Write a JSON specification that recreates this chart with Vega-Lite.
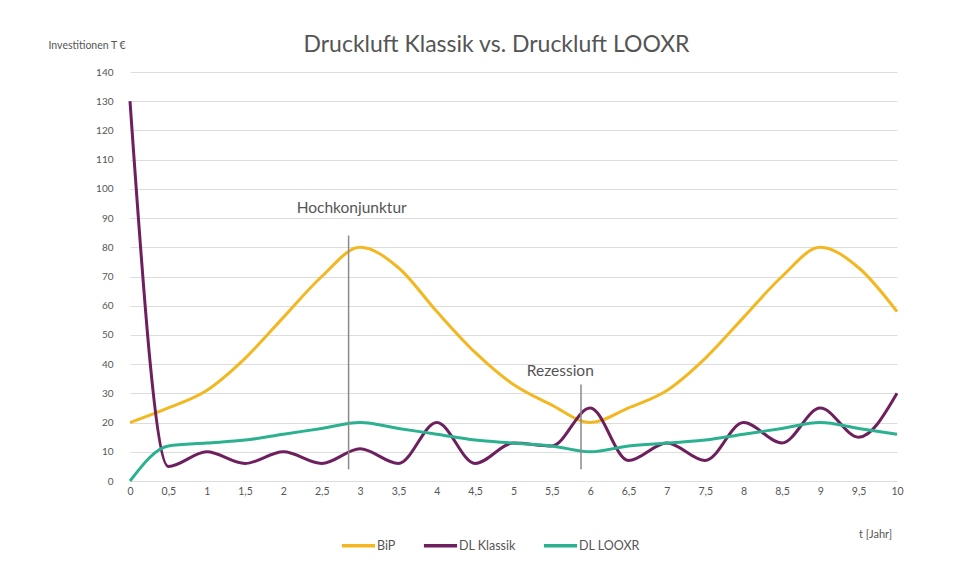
{
  "$schema": "https://vega.github.io/schema/vega-lite/v6.json",
  "autosize": {"type": "none"},
  "width": 767,
  "height": 409,
  "padding": {"left": 130, "top": 72, "right": 57, "bottom": 90},
  "background": "white",
  "config": {
    "view": {"stroke": null},
    "font": "Lato",
    "axis": {"labelFont": "Lato", "titleFont": "Lato", "labelColor": "#555", "titleColor": "#555"},
    "legend": {"labelFont": "Lato"}
  },
  "title": {
    "text": "Druckluft Klassik vs. Druckluft LOOXR",
    "fontSize": 23,
    "font": "Lato",
    "fontWeight": "normal",
    "color": "#555",
    "anchor": "middle",
    "dx": -17,
    "dy": 35,
    "offset": 18
  },
  "datasets": {
    "serien": [
      {"t": 0, "serie": "BiP", "wert": 20},
      {"t": 0.5, "serie": "BiP", "wert": 25},
      {"t": 1, "serie": "BiP", "wert": 31},
      {"t": 1.5, "serie": "BiP", "wert": 42},
      {"t": 2, "serie": "BiP", "wert": 56},
      {"t": 2.5, "serie": "BiP", "wert": 70},
      {"t": 3, "serie": "BiP", "wert": 80},
      {"t": 3.5, "serie": "BiP", "wert": 73},
      {"t": 4, "serie": "BiP", "wert": 58},
      {"t": 4.5, "serie": "BiP", "wert": 44},
      {"t": 5, "serie": "BiP", "wert": 33},
      {"t": 5.5, "serie": "BiP", "wert": 26},
      {"t": 6, "serie": "BiP", "wert": 20},
      {"t": 6.5, "serie": "BiP", "wert": 25},
      {"t": 7, "serie": "BiP", "wert": 31},
      {"t": 7.5, "serie": "BiP", "wert": 42},
      {"t": 8, "serie": "BiP", "wert": 56},
      {"t": 8.5, "serie": "BiP", "wert": 70},
      {"t": 9, "serie": "BiP", "wert": 80},
      {"t": 9.5, "serie": "BiP", "wert": 73},
      {"t": 10, "serie": "BiP", "wert": 58},
      {"t": 0, "serie": "DL Klassik", "wert": 130},
      {"t": 0.5, "serie": "DL Klassik", "wert": 5},
      {"t": 1, "serie": "DL Klassik", "wert": 10},
      {"t": 1.5, "serie": "DL Klassik", "wert": 6},
      {"t": 2, "serie": "DL Klassik", "wert": 10},
      {"t": 2.5, "serie": "DL Klassik", "wert": 6},
      {"t": 3, "serie": "DL Klassik", "wert": 11},
      {"t": 3.5, "serie": "DL Klassik", "wert": 6},
      {"t": 4, "serie": "DL Klassik", "wert": 20},
      {"t": 4.5, "serie": "DL Klassik", "wert": 6},
      {"t": 5, "serie": "DL Klassik", "wert": 13},
      {"t": 5.5, "serie": "DL Klassik", "wert": 12},
      {"t": 6, "serie": "DL Klassik", "wert": 25},
      {"t": 6.5, "serie": "DL Klassik", "wert": 7},
      {"t": 7, "serie": "DL Klassik", "wert": 13},
      {"t": 7.5, "serie": "DL Klassik", "wert": 7},
      {"t": 8, "serie": "DL Klassik", "wert": 20},
      {"t": 8.5, "serie": "DL Klassik", "wert": 13},
      {"t": 9, "serie": "DL Klassik", "wert": 25},
      {"t": 9.5, "serie": "DL Klassik", "wert": 15},
      {"t": 10, "serie": "DL Klassik", "wert": 30},
      {"t": 0, "serie": "DL LOOXR", "wert": 0},
      {"t": 0.5, "serie": "DL LOOXR", "wert": 12},
      {"t": 1, "serie": "DL LOOXR", "wert": 13},
      {"t": 1.5, "serie": "DL LOOXR", "wert": 14},
      {"t": 2, "serie": "DL LOOXR", "wert": 16},
      {"t": 2.5, "serie": "DL LOOXR", "wert": 18},
      {"t": 3, "serie": "DL LOOXR", "wert": 20},
      {"t": 3.5, "serie": "DL LOOXR", "wert": 18},
      {"t": 4, "serie": "DL LOOXR", "wert": 16},
      {"t": 4.5, "serie": "DL LOOXR", "wert": 14},
      {"t": 5, "serie": "DL LOOXR", "wert": 13},
      {"t": 5.5, "serie": "DL LOOXR", "wert": 12},
      {"t": 6, "serie": "DL LOOXR", "wert": 10},
      {"t": 6.5, "serie": "DL LOOXR", "wert": 12},
      {"t": 7, "serie": "DL LOOXR", "wert": 13},
      {"t": 7.5, "serie": "DL LOOXR", "wert": 14},
      {"t": 8, "serie": "DL LOOXR", "wert": 16},
      {"t": 8.5, "serie": "DL LOOXR", "wert": 18},
      {"t": 9, "serie": "DL LOOXR", "wert": 20},
      {"t": 9.5, "serie": "DL LOOXR", "wert": 18},
      {"t": 10, "serie": "DL LOOXR", "wert": 16}
    ],
    "linien": [
      {"t": 2.85, "wert": 4, "wert2": 84},
      {"t": 5.88, "wert": 4, "wert2": 33}
    ],
    "beschriftungen": [
      {"t": 2.89, "wert": 93.5, "name": "Hochkonjunktur"},
      {"t": 5.61, "wert": 37.5, "name": "Rezession"}
    ]
  },
  "encoding": {
    "x": {
      "field": "t",
      "type": "quantitative",
      "scale": {"domain": [0, 10], "nice": false},
      "axis": {
        "values": [0, 0.5, 1, 1.5, 2, 2.5, 3, 3.5, 4, 4.5, 5, 5.5, 6, 6.5, 7, 7.5, 8, 8.5, 9, 9.5, 10],
        "labelExpr": "replace(format(datum.value, '.1~f'), '.', ',')",
        "labelOverlap": false,
        "grid": false,
        "domain": false,
        "ticks": false,
        "labelPadding": 5,
        "labelFontSize": 10.5,
        "labelFlush": false,
        "title": "t [Jahr]",
        "titleFontSize": 11,
        "titleFontWeight": "normal",
        "titleAlign": "center",
        "titleX": 745,
        "titleY": 53,
        "titleBaseline": "middle"
      }
    },
    "y": {
      "field": "wert",
      "type": "quantitative",
      "scale": {"domain": [0, 140], "nice": false},
      "axis": {
        "values": [0, 10, 20, 30, 40, 50, 60, 70, 80, 90, 100, 110, 120, 130, 140],
        "labelOverlap": false,
        "grid": true,
        "gridColor": "#dddddd",
        "gridWidth": 1,
        "domain": false,
        "ticks": false,
        "labelPadding": 17,
        "labelFontSize": 10,
        "title": "Investitionen T €",
        "titleAngle": 0,
        "titleFontSize": 10.5,
        "titleFontWeight": "normal",
        "titleAlign": "left",
        "titleBaseline": "middle",
        "titleX": -82,
        "titleY": -27
      }
    }
  },
  "layer": [
    {
      "data": {"name": "serien"},
      "mark": {"type": "line", "interpolate": "monotone", "strokeWidth": 3},
      "encoding": {
        "color": {
          "field": "serie",
          "type": "nominal",
          "scale": {"domain": ["BiP", "DL Klassik", "DL LOOXR"], "range": ["#F3B722", "#6E1F5D", "#2BB18F"]},
          "legend": {
            "title": null,
            "orient": "none",
            "direction": "horizontal",
            "legendX": 210,
            "legendY": 455,
            "symbolType": "stroke",
            "symbolSize": 1100,
            "symbolStrokeWidth": 3.5,
            "labelFontSize": 12.5,
            "labelColor": "#555",
            "labelOffset": 0,
            "columnPadding": 20
          }
        }
      }
    },
    {
      "data": {"name": "linien"},
      "mark": {"type": "rule", "color": "#8a8a8a", "strokeWidth": 1.5},
      "encoding": {
        "y2": {"field": "wert2"}
      }
    },
    {
      "data": {"name": "beschriftungen"},
      "mark": {"type": "text", "fontSize": 15.5, "color": "#555", "align": "center", "baseline": "middle", "font": "Lato"},
      "encoding": {
        "text": {"field": "name"}
      }
    }
  ]
}
